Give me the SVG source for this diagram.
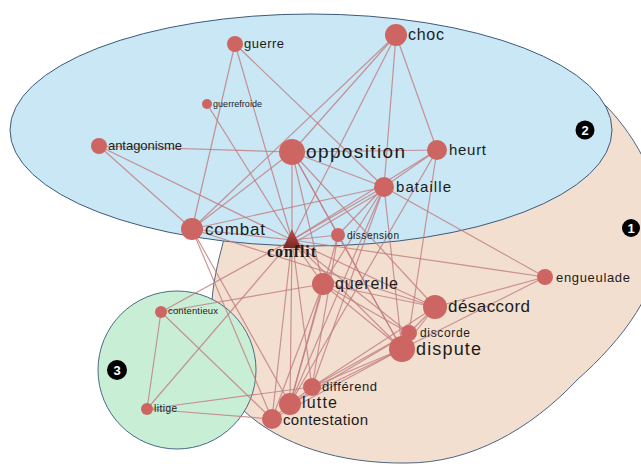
<svg xmlns="http://www.w3.org/2000/svg" width="641" height="464" viewBox="0 0 641 464">
<defs>
<style>
.e{stroke:#c07c80;stroke-opacity:0.8;stroke-width:1.2;fill:none}
.n{fill:#cd6663}
.t{font-family:"Liberation Sans",Arial,sans-serif;fill:#1c1c1c}
.b{fill:#000}
.bt{font-family:"Liberation Sans",Arial,sans-serif;font-weight:bold;font-size:13px;fill:#fff;text-anchor:middle}
</style>
<linearGradient id="tri" x1="0" y1="0" x2="0" y2="1">
<stop offset="0" stop-color="#c0504d"/>
<stop offset="1" stop-color="#7a2626"/>
</linearGradient>
</defs>
<rect width="641" height="464" fill="#fff"/>
<g id="regions">
<path id="cluster1" d="M 600,100 C 632,130 662,180 662,230 C 662,290 622,340 577,380 C 530,430 470,463 407,463 C 340,464 280,445 243,410 C 220,385 208,340 212,300 C 214,275 220,255 225,235 L 240,170 Z" fill="#f2dfcf" stroke="#4f6480" stroke-width="1"/>
<ellipse id="cluster2" cx="311" cy="130" rx="301" ry="116" fill="#c9e7f4" stroke="#3f5a7a" stroke-width="1"/>
<circle id="cluster3" cx="177" cy="370" r="79" fill="#c8efd6" stroke="#4a6a85" stroke-width="1"/>
</g>
<g id="connectors" class="e">
<line x1="235" y1="44" x2="192" y2="229"/>
<line x1="235" y1="44" x2="292" y2="240"/>
<line x1="235" y1="44" x2="384" y2="187"/>
<line x1="207" y1="104" x2="292" y2="240"/>
<line x1="99" y1="146" x2="292" y2="152"/>
<line x1="99" y1="146" x2="192" y2="229"/>
<line x1="99" y1="146" x2="292" y2="240"/>
<line x1="396" y1="35" x2="292" y2="152"/>
<line x1="396" y1="35" x2="192" y2="229"/>
<line x1="396" y1="35" x2="384" y2="187"/>
<line x1="396" y1="35" x2="437" y2="150"/>
<line x1="396" y1="35" x2="292" y2="240"/>
<line x1="292" y1="152" x2="437" y2="150"/>
<line x1="292" y1="152" x2="384" y2="187"/>
<line x1="292" y1="152" x2="192" y2="229"/>
<line x1="292" y1="152" x2="292" y2="240"/>
<line x1="292" y1="152" x2="338" y2="235"/>
<line x1="292" y1="152" x2="323" y2="284"/>
<line x1="292" y1="152" x2="402" y2="349"/>
<line x1="292" y1="152" x2="435" y2="307"/>
<line x1="437" y1="150" x2="384" y2="187"/>
<line x1="437" y1="150" x2="292" y2="240"/>
<line x1="437" y1="150" x2="409" y2="333"/>
<line x1="437" y1="150" x2="290" y2="404"/>
<line x1="384" y1="187" x2="192" y2="229"/>
<line x1="384" y1="187" x2="292" y2="240"/>
<line x1="384" y1="190" x2="294" y2="243"/>
<line x1="384" y1="187" x2="338" y2="235"/>
<line x1="384" y1="187" x2="323" y2="284"/>
<line x1="384" y1="187" x2="402" y2="349"/>
<line x1="384" y1="187" x2="545" y2="277"/>
<line x1="384" y1="187" x2="290" y2="404"/>
<line x1="384" y1="187" x2="312" y2="387"/>
<line x1="192" y1="229" x2="292" y2="240"/>
<line x1="192" y1="229" x2="290" y2="404"/>
<line x1="192" y1="229" x2="272" y2="419"/>
<line x1="192" y1="229" x2="435" y2="307"/>
<line x1="292" y1="240" x2="338" y2="235"/>
<line x1="292" y1="240" x2="323" y2="284"/>
<line x1="292" y1="240" x2="435" y2="307"/>
<line x1="292" y1="240" x2="402" y2="349"/>
<line x1="292" y1="240" x2="545" y2="277"/>
<line x1="292" y1="240" x2="290" y2="404"/>
<line x1="292" y1="240" x2="272" y2="419"/>
<line x1="292" y1="240" x2="312" y2="387"/>
<line x1="292" y1="240" x2="409" y2="333"/>
<line x1="338" y1="235" x2="402" y2="349"/>
<line x1="338" y1="235" x2="290" y2="404"/>
<line x1="338" y1="235" x2="312" y2="387"/>
<line x1="323" y1="284" x2="435" y2="307"/>
<line x1="323" y1="284" x2="402" y2="349"/>
<line x1="323" y1="284" x2="409" y2="333"/>
<line x1="323" y1="284" x2="290" y2="404"/>
<line x1="323" y1="284" x2="272" y2="419"/>
<line x1="435" y1="307" x2="402" y2="349"/>
<line x1="435" y1="307" x2="409" y2="333"/>
<line x1="435" y1="307" x2="545" y2="277"/>
<line x1="402" y1="349" x2="545" y2="277"/>
<line x1="402" y1="349" x2="409" y2="333"/>
<line x1="312" y1="387" x2="402" y2="349"/>
<line x1="312" y1="387" x2="409" y2="333"/>
<line x1="312" y1="387" x2="435" y2="307"/>
<line x1="290" y1="404" x2="402" y2="349"/>
<line x1="290" y1="404" x2="409" y2="333"/>
<line x1="272" y1="419" x2="402" y2="349"/>
<line x1="290" y1="404" x2="272" y2="419"/>
<line x1="290" y1="404" x2="312" y2="387"/>
<line x1="161" y1="312" x2="147" y2="409"/>
<line x1="161" y1="312" x2="292" y2="240"/>
<line x1="161" y1="312" x2="323" y2="284"/>
<line x1="161" y1="312" x2="272" y2="419"/>
<line x1="147" y1="409" x2="292" y2="240"/>
<line x1="147" y1="409" x2="312" y2="387"/>
<line x1="147" y1="409" x2="272" y2="419"/>
</g>
<g id="guerre"><circle class="n" cx="235" cy="44" r="8"/><text class="t" x="244" y="48" font-size="13" textLength="40">guerre</text></g>
<g id="guerrefroide"><circle class="n" cx="207" cy="104" r="5"/><text class="t" x="213" y="107" font-size="9" textLength="49">guerrefroide</text></g>
<g id="antagonisme"><circle class="n" cx="99" cy="146" r="8"/><text class="t" x="108" y="150" font-size="13" textLength="74">antagonisme</text></g>
<g id="choc"><circle class="n" cx="396" cy="35" r="11"/><text class="t" x="408" y="40" font-size="16" textLength="36">choc</text></g>
<g id="opposition"><circle class="n" cx="292" cy="152" r="13"/><text class="t" x="306" y="158" font-size="19" textLength="99">opposition</text></g>
<g id="heurt"><circle class="n" cx="437" cy="150" r="10"/><text class="t" x="449" y="155" font-size="15" textLength="37">heurt</text></g>
<g id="bataille"><circle class="n" cx="384" cy="187" r="10"/><text class="t" x="396" y="192" font-size="15" textLength="55">bataille</text></g>
<g id="combat"><circle class="n" cx="192" cy="229" r="11"/><text class="t" x="205" y="235" font-size="17" textLength="60">combat</text></g>
<g id="dissension"><circle class="n" cx="338" cy="235" r="7"/><text class="t" x="347" y="239" font-size="10" textLength="52">dissension</text></g>
<g id="conflit"><path d="M292,229 L301,248 L283,248 Z" fill="url(#tri)"/><text x="267" y="257" font-family="'Liberation Serif','Times New Roman',serif" font-weight="bold" font-size="16" fill="#1c1c1c" textLength="49">conflit</text></g>
<g id="querelle"><circle class="n" cx="323" cy="284" r="11"/><text class="t" x="335" y="289" font-size="16" textLength="63">querelle</text></g>
<g id="desaccord"><circle class="n" cx="435" cy="307" r="12"/><text class="t" x="448" y="312" font-size="17" textLength="82">désaccord</text></g>
<g id="engueulade"><circle class="n" cx="545" cy="277" r="8"/><text class="t" x="556" y="282" font-size="13" textLength="74">engueulade</text></g>
<g id="discorde"><circle class="n" cx="409" cy="333" r="8"/><text class="t" x="420" y="337" font-size="12" textLength="50">discorde</text></g>
<g id="dispute"><circle class="n" cx="402" cy="349" r="13"/><text class="t" x="416" y="355" font-size="18" textLength="65">dispute</text></g>
<g id="differend"><circle class="n" cx="312" cy="387" r="9"/><text class="t" x="322" y="391" font-size="13" textLength="55">différend</text></g>
<g id="lutte"><circle class="n" cx="290" cy="404" r="11"/><text class="t" x="302" y="408" font-size="16" textLength="35">lutte</text></g>
<g id="contestation"><circle class="n" cx="272" cy="419" r="10"/><text class="t" x="283" y="425" font-size="15" textLength="85">contestation</text></g>
<g id="contentieux"><circle class="n" cx="161" cy="312" r="6"/><text class="t" x="168" y="314" font-size="9.5" textLength="50">contentieux</text></g>
<g id="litige"><circle class="n" cx="147" cy="409" r="6"/><text class="t" x="154" y="412" font-size="10" textLength="23">litige</text></g>
<g id="badges">
<circle class="b" cx="631" cy="228" r="9"/><text class="bt" x="631" y="233">1</text>
<circle class="b" cx="585" cy="130" r="9.5"/><text class="bt" x="585" y="135">2</text>
<circle class="b" cx="117" cy="370" r="10"/><text class="bt" x="117" y="375">3</text>
</g>
</svg>
